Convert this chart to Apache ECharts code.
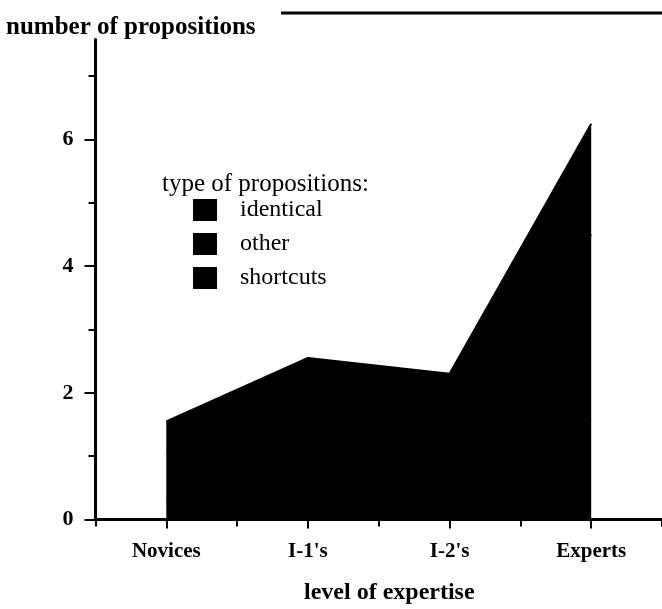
<!DOCTYPE html>
<html>
<head>
<meta charset="utf-8">
<script src="https://cdn.jsdelivr.net/npm/echarts@6/dist/echarts.min.js"></script>
<style>
  html, body { margin: 0; padding: 0; background: #fff; }
  #main { width: 662px; height: 609px; }
</style>
</head>
<body>
<div id="main"></div>
<script>
// data (the three layers are all black in the scan, split estimated)
let levels = ['Novices', "I-1's", "I-2's", 'Experts']
let identical = [0.3, 0.5, 0.6, 1.6]
let other = [0.8, 1.3, 1.0, 2.9]
let shortcuts = [0.45, 0.75, 0.7, 1.75]
let seriesNames = ['identical', 'other', 'shortcuts']
let majorTicks = [0, 2, 4, 6]
let minorTicks = [1, 3, 5, 7]
let yMax = 7.58

let font = 'Liberation Serif'
let myChart = echarts.init(document.getElementById('main'))

//一个系列的样式
function areaSeries(name, data) {
    return {
        name: name,
        type: 'line',
        stack: 'total',
        data: data,
        symbol: 'none',
        lineStyle: { color: '#000', width: 2 },
        itemStyle: { color: '#000' },
        areaStyle: { color: '#000', opacity: 1 }
    }
}

let option = {
    animation: false,
    backgroundColor: '#fff',
    textStyle: { fontFamily: font, color: '#000' },
    title: [{
        text: 'number of propositions',
        left: 6,
        top: 15,
        padding: 0,
        textStyle: { fontFamily: font, fontSize: 25, fontWeight: 'bold', color: '#000' }
    }, {
        text: 'type of propositions:',
        left: 162,
        top: 172,
        padding: 0,
        textStyle: { fontFamily: font, fontSize: 25, fontWeight: 'normal', color: '#000' }
    }, {
        text: 'level of expertise',
        left: 304,
        top: 581,
        padding: 0,
        textStyle: { fontFamily: font, fontSize: 24, fontWeight: 'bold', color: '#000' }
    }],
    legend: {
        orient: 'vertical',
        left: 193,
        top: 198,
        padding: 0,
        icon: 'rect',
        itemWidth: 24,
        itemHeight: 22,
        itemGap: 10,
        data: seriesNames,
        textStyle: { fontFamily: font, fontSize: 24, color: '#000', padding: [0, 0, 0, 18] }
    },
    grid: {
        left: 95.5,
        width: 573,
        top: 39.5,
        bottom: 89.5
    },
    xAxis: [{
        type: 'category',
        data: levels,
        boundaryGap: true,
        axisLine: { lineStyle: { color: '#000', width: 3 } },
        axisTick: { show: true, length: 7, lineStyle: { color: '#000', width: 2 } },
        axisLabel: { color: '#000', fontFamily: font, fontSize: 21, fontWeight: 'bold', margin: 22 }
    }, {
        type: 'category',
        data: levels,
        boundaryGap: true,
        position: 'bottom',
        axisLine: { show: false },
        axisTick: { show: true, alignWithLabel: true, length: 9, lineStyle: { color: '#000', width: 2 } },
        axisLabel: { show: false }
    }],
    yAxis: [{
        type: 'value',
        min: 0,
        max: yMax,
        splitLine: { show: false },
        axisLine: { show: true, lineStyle: { color: '#000', width: 3 } },
        axisTick: { show: true, length: 11, customValues: majorTicks, lineStyle: { color: '#000', width: 2 } },
        axisLabel: { color: '#000', fontFamily: font, fontSize: 22, fontWeight: 'bold', margin: 22, customValues: majorTicks }
    }, {
        type: 'value',
        min: 0,
        max: yMax,
        position: 'left',
        splitLine: { show: false },
        axisLine: { show: false },
        axisTick: { show: true, length: 7, customValues: minorTicks, lineStyle: { color: '#000', width: 2 } },
        axisLabel: { show: false }
    }],
    graphic: [{
        type: 'line',
        shape: { x1: 281, y1: 13, x2: 662, y2: 13 },
        style: { stroke: '#000', lineWidth: 3 }
    }],
    series: [
        areaSeries(seriesNames[0], identical),
        areaSeries(seriesNames[1], other),
        areaSeries(seriesNames[2], shortcuts)
    ]
}
myChart.setOption(option)
</script>
</body>
</html>
